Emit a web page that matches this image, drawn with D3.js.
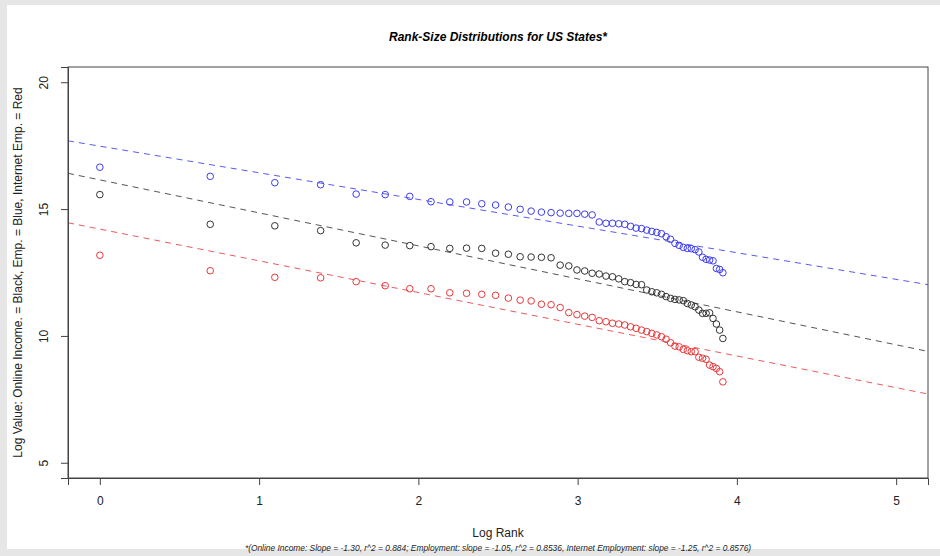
<!DOCTYPE html>
<html>
<head>
<meta charset="utf-8">
<script src="https://cdn.jsdelivr.net/npm/d3@7"></script>
<style>
  html, body { margin: 0; padding: 0; background: #e6e6e6; }
  svg { display: block; font-family: "Liberation Sans", Arial, sans-serif; }
  .axis path, .axis line { stroke: #444; }
  .axis text { font-size: 12px; fill: #222; }
</style>
</head>
<body>
<div id="chart"></div>
<script>
  // state rank (x axis is log of it)
  const ranks = [1, 2, 3, 4, 5, 6, 7, 8, 9, 10, 11, 12, 13, 14, 15, 16, 17, 18, 19, 20,
    21, 22, 23, 24, 25, 26, 27, 28, 29, 30, 31, 32, 33, 34, 35, 36, 37, 38, 39, 40,
    41, 42, 43, 44, 45, 46, 47, 48, 49, 50];

  // log values
  const onlineIncome = [15.57, 14.40, 14.34, 14.15, 13.67, 13.58, 13.56, 13.52, 13.45, 13.46,
    13.45, 13.26, 13.22, 13.12, 13.11, 13.10, 13.08, 12.79, 12.76, 12.60,
    12.56, 12.47, 12.44, 12.36, 12.33, 12.25, 12.14, 12.10, 12.03, 12.02,
    11.81, 11.74, 11.70, 11.64, 11.55, 11.48, 11.44, 11.42, 11.39, 11.28,
    11.22, 11.15, 11.02, 10.89, 10.89, 10.91, 10.69, 10.47, 10.23, 9.90];
  const employment = [16.65, 16.29, 16.04, 15.96, 15.59, 15.57, 15.50, 15.29, 15.28, 15.28,
    15.21, 15.16, 15.08, 14.99, 14.92, 14.88, 14.86, 14.84, 14.83, 14.83,
    14.80, 14.77, 14.49, 14.44, 14.44, 14.42, 14.40, 14.32, 14.25, 14.23,
    14.17, 14.12, 14.08, 14.03, 13.91, 13.81, 13.65, 13.57, 13.49, 13.45,
    13.44, 13.40, 13.31, 13.10, 13.02, 12.99, 12.96, 12.66, 12.62, 12.49];
  const internetEmp = [13.18, 12.57, 12.31, 12.29, 12.14, 11.98, 11.86, 11.86, 11.70, 11.68,
    11.64, 11.60, 11.49, 11.41, 11.38, 11.25, 11.23, 11.12, 10.92, 10.84,
    10.78, 10.73, 10.60, 10.56, 10.50, 10.47, 10.43, 10.36, 10.30, 10.23,
    10.17, 10.10, 10.04, 9.97, 9.87, 9.73, 9.60, 9.57, 9.47, 9.42,
    9.38, 9.38, 9.16, 9.12, 9.08, 8.85, 8.79, 8.72, 8.59, 8.19];

  // fitted lines: [intercept, slope]
  const fitIncome = [16.15, -1.30];
  const fitEmployment = [17.48, -1.05];
  const fitInternet = [14.21, -1.25];

  const xTicks = [0, 1, 2, 3, 4, 5];
  const yTicks = [5, 10, 15, 20];

  const width = 940;
  const height = 556;
  const box = { left: 68, right: 928, top: 67, bottom: 478 };

  const svg = d3.select('#chart').append('svg')
    .attr('width', width)
    .attr('height', height);

  // white page inside grey frame
  svg.append('rect')
    .attr('x', 7).attr('y', 5)
    .attr('width', width - 7).attr('height', 544)
    .attr('fill', '#fff');

  const x = d3.scaleLinear().domain([-0.2, 5.2]).range([box.left, box.right]);
  const y = d3.scaleLinear().domain([4.4, 20.6]).range([box.bottom, box.top]);

  const series = [
    { values: employment, fit: fitEmployment, point: '#3c3cf0', line: '#5a5af2' },
    { values: onlineIncome, fit: fitIncome, point: '#333', line: '#555' },
    { values: internetEmp, fit: fitInternet, point: '#e8383a', line: '#ec5a5c' }
  ];

  const clip = svg.append('clipPath').attr('id', 'plot')
    .append('rect')
      .attr('x', box.left).attr('y', box.top)
      .attr('width', box.right - box.left).attr('height', box.bottom - box.top);

  // regression lines
  svg.append('g').attr('clip-path', 'url(#plot)')
    .selectAll('line')
    .data(series)
    .enter().append('line')
      .attr('x1', x(-0.2))
      .attr('x2', x(5.2))
      .attr('y1', d => y(d.fit[0] + d.fit[1] * -0.2))
      .attr('y2', d => y(d.fit[0] + d.fit[1] * 5.2))
      .attr('stroke', d => d.line)
      .attr('stroke-width', 1)
      .attr('stroke-dasharray', '6,5');

  // points
  series.forEach(s => {
    svg.append('g').selectAll('circle')
      .data(s.values)
      .enter().append('circle')
        .attr('cx', (d, i) => x(Math.log(ranks[i])))
        .attr('cy', d => y(d))
        .attr('r', 3.3)
        .attr('fill', 'none')
        .attr('stroke', s.point)
        .attr('stroke-width', 1);
  });

  // box
  svg.append('rect')
    .attr('x', box.left).attr('y', box.top)
    .attr('width', box.right - box.left).attr('height', box.bottom - box.top)
    .attr('fill', 'none')
    .attr('stroke', '#444');

  // axes
  svg.append('g').attr('class', 'axis')
    .attr('transform', `translate(0,${box.bottom})`)
    .call(d3.axisBottom(x).tickValues(xTicks).tickSize(7).tickPadding(11).tickFormat(d3.format('d')));

  const yAxis = svg.append('g').attr('class', 'axis')
    .attr('transform', `translate(${box.left},0)`)
    .call(d3.axisLeft(y).tickValues(yTicks).tickSize(7).tickFormat(d3.format('d')));
  yAxis.selectAll('text')
    .attr('x', null).attr('dy', null)
    .attr('text-anchor', 'middle')
    .attr('transform', 'translate(-20,0) rotate(-90)');

  // titles
  svg.append('text')
    .attr('x', (box.left + box.right) / 2).attr('y', 41)
    .attr('text-anchor', 'middle')
    .style('font-size', '12px').style('font-weight', 'bold').style('font-style', 'italic')
    .text('Rank-Size Distributions for US States*');

  svg.append('text')
    .attr('x', (box.left + box.right) / 2).attr('y', 537)
    .attr('text-anchor', 'middle')
    .style('font-size', '12px').attr('fill', '#222')
    .text('Log Rank');

  svg.append('text')
    .attr('x', (box.left + box.right) / 2).attr('y', 551)
    .attr('text-anchor', 'middle')
    .style('font-size', '8.4px').style('font-style', 'italic').attr('fill', '#222')
    .text('*(Online Income: Slope = -1.30, r^2 = 0.884; Employment: slope = -1.05, r^2 = 0.8536, Internet Employment: slope = -1.25, r^2 = 0.8576)');

  svg.append('text')
    .attr('transform', `translate(21.5,${(box.top + box.bottom) / 2}) rotate(-90)`)
    .attr('text-anchor', 'middle')
    .style('font-size', '12px').attr('fill', '#222')
    .text('Log Value: Online Income. = Black, Emp. = Blue, Internet Emp. = Red');
</script>
</body>
</html>
